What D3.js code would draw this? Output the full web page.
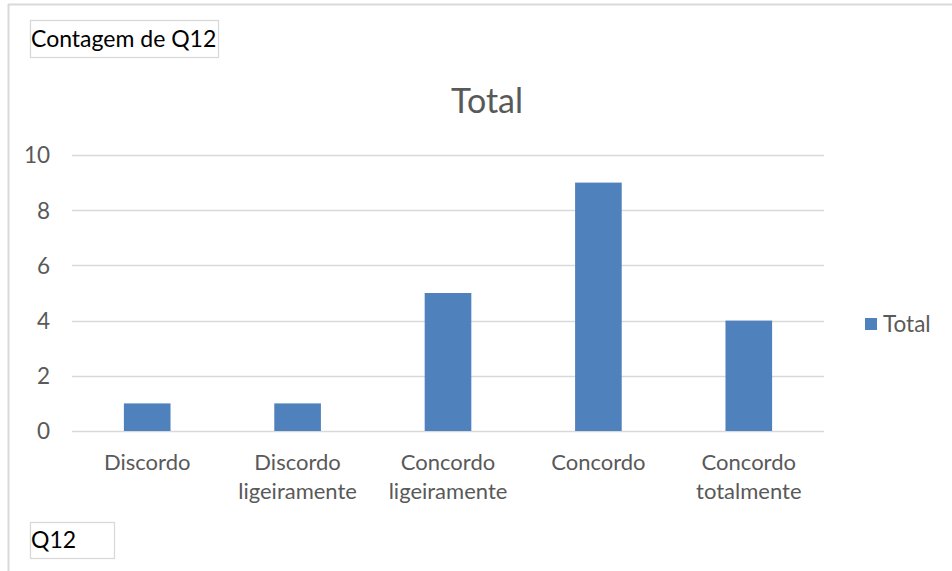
<!DOCTYPE html>
<html>
<head>
<meta charset="utf-8">
<script src="https://cdn.jsdelivr.net/npm/d3@7"></script>
<style>
  html, body { margin: 0; padding: 0; background: #fff; }
  svg { display: block; }
</style>
</head>
<body>
<svg id="chart" width="952" height="571"></svg>
<script>
// Contagem de respostas por categoria (Q12)
const categories = [
  ["Discordo"],
  ["Discordo", "ligeiramente"],
  ["Concordo", "ligeiramente"],
  ["Concordo"],
  ["Concordo", "totalmente"]
];
const values = [1, 1, 5, 9, 4];
const yTicks = [0, 2, 4, 6, 8, 10];
const seriesName = "Total";

const W = 952, H = 571;
const font = "Lato, 'Open Sans', sans-serif";
const textGrey = "#595959";
const barColor = "#4f81bd";

const svg = d3.select("#chart");

// Chart-area frame (top and left edges visible)
svg.append("line").attr("x1", 8).attr("x2", W).attr("y1", 4.5).attr("y2", 4.5)
  .attr("stroke", "#d9d9d9").attr("stroke-width", 2);
svg.append("line").attr("x1", 8.5).attr("x2", 8.5).attr("y1", 4).attr("y2", H)
  .attr("stroke", "#d9d9d9").attr("stroke-width", 2);

const plot = { left: 72, right: 824, top: 155, bottom: 431 };

const x = d3.scaleBand()
  .domain(d3.range(categories.length))
  .range([plot.left, plot.right])
  .paddingInner(0.69).paddingOuter(0.345);

const y = d3.scaleLinear().domain([0, 10]).range([plot.bottom, plot.top]);

// Gridlines
svg.append("g").selectAll("line").data(yTicks).join("line")
  .attr("x1", plot.left).attr("x2", plot.right)
  .attr("y1", d => Math.round(y(d)) + 0.5).attr("y2", d => Math.round(y(d)) + 0.5)
  .attr("stroke", "#d9d9d9").attr("stroke-width", 1.3);

// Bars
svg.append("g").selectAll("rect").data(values).join("rect")
  .attr("x", (d, i) => x(i))
  .attr("width", x.bandwidth())
  .attr("y", d => y(d))
  .attr("height", d => y(0) - y(d))
  .attr("fill", barColor);

// Y axis labels
const yAxis = d3.axisLeft(y).tickValues(yTicks).tickSize(0).tickPadding(0);
const gy = svg.append("g").attr("transform", `translate(${plot.left - 22},0)`).call(yAxis);
gy.select(".domain").remove();
gy.selectAll("text")
  .attr("font-family", font).attr("font-size", 22.5).attr("fill", textGrey)
  .attr("dy", "0.35em");

// X axis category labels (wrapped onto lines)
const xg = svg.append("g");
categories.forEach((lines, i) => {
  const cx = x(i) + x.bandwidth() / 2;
  const t = xg.append("text")
    .attr("text-anchor", "middle")
    .attr("font-family", font).attr("font-size", 22).attr("fill", textGrey);
  lines.forEach((ln, j) => {
    t.append("tspan").attr("x", cx).attr("y", 470 + j * 29).text(ln);
  });
});

// Title
svg.append("text").attr("x", 487).attr("y", 113)
  .attr("text-anchor", "middle")
  .attr("font-family", font).attr("font-size", 34).attr("fill", textGrey)
  .text(seriesName);

// Legend
svg.append("rect").attr("x", 865).attr("y", 318).attr("width", 12).attr("height", 12)
  .attr("fill", barColor);
svg.append("text").attr("x", 883).attr("y", 332)
  .attr("font-family", font).attr("font-size", 22.5).attr("fill", textGrey)
  .text(seriesName);

// Pivot field buttons
function fieldButton(x0, y0, w, h, label) {
  svg.append("rect").attr("x", x0 + 0.5).attr("y", y0 + 0.5).attr("width", w).attr("height", h)
    .attr("fill", "#fff").attr("stroke", "#d9d9d9").attr("stroke-width", 1.3);
  svg.append("text").attr("x", x0 + 1).attr("y", y0 + h - 10)
    .attr("font-family", font).attr("font-size", 23).attr("fill", "#000")
    .text(label);
}
fieldButton(30, 20, 188, 37, "Contagem de Q12");
fieldButton(30, 522, 84, 36, "Q12");
</script>
</body>
</html>
